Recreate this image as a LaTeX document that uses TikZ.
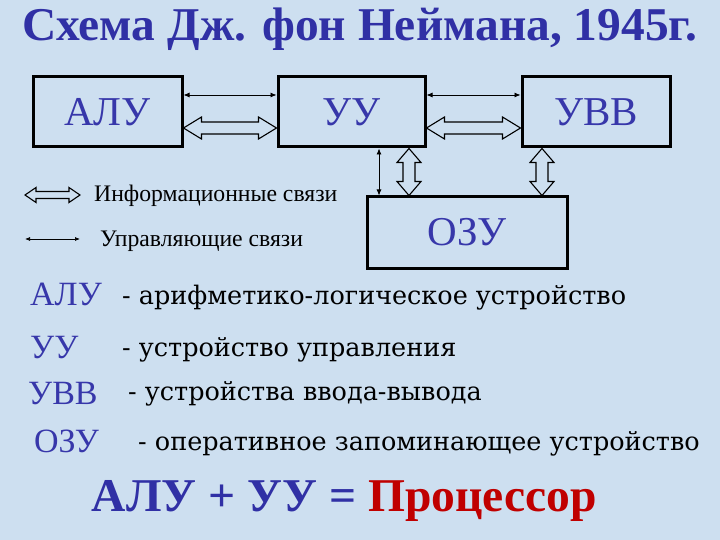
\documentclass[tikz,border=0pt]{standalone}
\usepackage{fontspec}
\usepackage{graphicx}
\setmainfont{Liberation Serif}
\newfontfamily\descfont{DejaVu Serif}
\usetikzlibrary{arrows.meta,calc}
\definecolor{bg}{RGB}{205,223,240}
\definecolor{ttlblue}{RGB}{48,48,165}
\definecolor{boxblue}{RGB}{55,55,170}
\definecolor{cpured}{RGB}{192,0,0}
\tikzset{
  unit/.style={draw=black, line width=3pt, text=boxblue, inner sep=0pt,
    font=\fontsize{41}{43}\selectfont},
  hollow/.style={draw=black, line width=1.1pt, line join=miter},
  ctrl/.style={draw=black, line width=0.8pt, {Latex[length=6pt,width=5pt]}-{Latex[length=6pt,width=5pt]}},
  abbr/.style={anchor=base west, inner sep=0pt, text=boxblue, font=\fontsize{34}{36}\selectfont},
  desc/.style={anchor=base west, inner sep=0pt, text=black, font=\descfont\fontsize{25.5}{27}\selectfont},
  legend/.style={anchor=base west, inner sep=0pt, text=black, font=\fontsize{23.7}{25}\selectfont}
}
% horizontal hollow double arrow: from, to, head length, head half width, shaft half width
\newcommand\hollowH[5]{\draw[hollow] let \p1=#1, \p2=#2 in
  (\x1,\y1) -- (\x1+#3,\y1+#4) -- (\x1+#3,\y1+#5) -- (\x2-#3,\y1+#5) -- (\x2-#3,\y1+#4)
  -- (\x2,\y1) -- (\x2-#3,\y1-#4) -- (\x2-#3,\y1-#5) -- (\x1+#3,\y1-#5) -- (\x1+#3,\y1-#4) -- cycle;}
% vertical hollow double arrow (top to bottom)
\newcommand\hollowV[5]{\draw[hollow] let \p1=#1, \p2=#2 in
  (\x1,\y1) -- (\x1+#4,\y1-#3) -- (\x1+#5,\y1-#3) -- (\x1+#5,\y2+#3) -- (\x1+#4,\y2+#3)
  -- (\x1,\y2) -- (\x1-#4,\y2+#3) -- (\x1-#5,\y2+#3) -- (\x1-#5,\y1-#3) -- (\x1-#4,\y1-#3) -- cycle;}
\begin{document}
\begin{tikzpicture}[x=1pt,y=-1pt]
\fill[bg] (0,0) rectangle (720,540);
\useasboundingbox (0,0) rectangle (720,540);

% title
\node[anchor=base, inner sep=0pt, text=ttlblue] (title) at (359.5,41)
  {\resizebox{675pt}{\height}{\fontsize{47}{49}\selectfont\bfseries Схема Дж. фон Неймана, 1945г.}};

% units
\node[unit, minimum width=149pt, minimum height=70pt] (alu) at (107.5,112) {АЛУ};
\node[unit, minimum width=147pt, minimum height=70pt] (uu)  at (351.5,112) {УУ};
\node[unit, minimum width=148pt, minimum height=70pt] (uvv) at (596,112) {УВВ};
\node[unit, minimum width=200pt, minimum height=71pt] (ozu) at (467,232.5) {ОЗУ};

% control links
\draw[ctrl] ([yshift=17pt]alu.east) -- ([yshift=17pt]uu.west);
\draw[ctrl] ([yshift=17pt]uu.east) -- ([yshift=17pt]uvv.west);
\coordinate (v1) at ([xshift=27.5pt]uu.south);
\draw[ctrl] (v1) -- (v1 |- ozu.north);

% information links
\hollowH{([yshift=-16pt]alu.east)}{([yshift=-16pt]uu.west)}{18pt}{11pt}{6pt}
\hollowH{([yshift=-16pt]uu.east)}{([yshift=-16pt]uvv.west)}{18pt}{11pt}{6pt}
\hollowV{([xshift=57.5pt]uu.south)}{(ozu.north)}{14pt}{12pt}{6pt}
\hollowV{([xshift=-54pt]uvv.south)}{(ozu.north)}{14pt}{12pt}{6pt}

% legend
\coordinate (l1a) at (25,195);
\coordinate (l1b) at (80,195);
\hollowH{(l1a)}{(l1b)}{11pt}{7.5pt}{3.5pt}
\node[legend] (l1t) at (94,202) {Информационные связи};
\coordinate (l2a) at (25,239);
\coordinate (l2b) at (80,239);
\draw[ctrl, line width=0.7pt, {Latex[length=5pt,width=4pt]}-{Latex[length=5pt,width=4pt]}] (l2a) -- (l2b);
\node[legend] (l2t) at (100,247) {Управляющие связи};

% abbreviations
\node[abbr] (a1) at (30,305) {АЛУ};
\node[desc] (d1) at (122,304) {- арифметико-логическое устройство};
\node[abbr] (a2) at (30,358) {УУ};
\node[desc] (d2) at (122,356) {- устройство управления};
\node[abbr] (a3) at (28,404) {УВВ};
\node[desc] (d3) at (128,400) {- устройства ввода-вывода};
\node[abbr] (a4) at (34,452) {ОЗУ};
\node[desc] (d4) at (138,450) {- оперативное запоминающее устройство};

% bottom formula
\node[anchor=base, inner sep=0pt] (cpu) at (344.5,511)
  {\resizebox{505pt}{\height}{\fontsize{47}{49}\selectfont\bfseries\textcolor{ttlblue}{АЛУ + УУ =} \textcolor{cpured}{Процессор}}};
\end{tikzpicture}
\end{document}
